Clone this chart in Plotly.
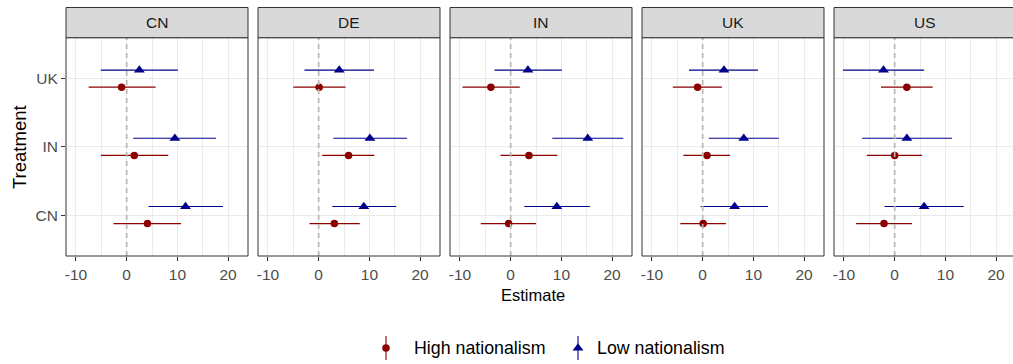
import plotly.graph_objects as go

# Facets (respondent country) and treatment categories
countries = ["CN", "DE", "IN", "UK", "US"]
treatments = ["CN", "IN", "UK"]
x_ticks = [-10, 0, 10, 20]

# High nationalism: estimate and 95% interval, one row per facet (CN, IN, UK treatments)
high_est = [[4.1, 1.5, -1.0], [3.1, 5.9, 0.1], [-0.4, 3.6, -3.9], [0.1, 0.85, -1.0], [-2.1, 0.0, 2.4]]
high_lo = [[-2.6, -5.1, -7.5], [-1.8, 0.7, -5.0], [-5.9, -2.0, -9.5], [-4.4, -3.8, -5.9], [-7.6, -5.5, -2.7]]
high_hi = [[10.7, 8.2, 5.7], [8.1, 11.0, 5.3], [5.0, 9.2, 1.8], [4.6, 5.4, 3.8], [3.4, 5.4, 7.5]]

# Low nationalism
low_est = [[11.6, 9.5, 2.5], [8.9, 10.1, 4.05], [9.1, 15.2, 3.4], [6.3, 8.1, 4.2], [5.8, 2.4, -2.2]]
low_lo = [[4.3, 1.3, -5.1], [2.7, 2.9, -2.8], [2.7, 8.2, -3.2], [-0.4, 1.2, -2.7], [-2.0, -6.4, -10.2]]
low_hi = [[19.0, 17.6, 10.1], [15.3, 17.4, 10.9], [15.6, 22.2, 10.1], [12.9, 15.0, 10.9], [13.6, 11.3, 5.8]]

HIGH_COL = "#8B0000"
LOW_COL = "#00008B"
FONT = "Liberation Sans, Arial, sans-serif"

W, H = 1013, 364
def px_x(p):
    return p / W
def px_y(p):
    return 1 - p / H

panel_left = [66, 258, 450, 642, 834]
panel_w = 182
panel_top, panel_bot = 37.7, 256
strip_top = 7.5
x_lo, x_span = -11.96, 35.88
dodge = 0.125

fig = go.Figure()

for i, c in enumerate(countries):
    n = i + 1
    xa, ya = f"x{n}" if n > 1 else "x", f"y{n}" if n > 1 else "y"
    ypos = [k + 1 for k in range(len(treatments))]
    series = [
        ("High nationalism", high_est[i], high_lo[i], high_hi[i], HIGH_COL, "circle", 7.5, -dodge),
        ("Low nationalism", low_est[i], low_lo[i], low_hi[i], LOW_COL, "triangle-up", 9.5, dodge),
    ]
    for name, est, lo, hi, col, sym, size, off in series:
        fig.add_trace(go.Scatter(
            x=est, y=[p + off for p in ypos], xaxis=xa, yaxis=ya,
            mode="markers", name=name, showlegend=False,
            marker=dict(color=col, symbol=sym, size=size, line=dict(width=0)),
            error_x=dict(type="data", symmetric=False,
                         array=[h - e for h, e in zip(hi, est)],
                         arrayminus=[e - l for e, l in zip(est, lo)],
                         color=col, thickness=1.1, width=0),
        ))

    left = panel_left[i]
    w = min(panel_w, W - left)
    x_hi = x_lo + w * x_span / panel_w
    axk = "xaxis" if n == 1 else f"xaxis{n}"
    ayk = "yaxis" if n == 1 else f"yaxis{n}"
    fig.layout[axk] = dict(
        domain=[px_x(left), px_x(left + w)], range=[x_lo, x_hi], anchor=ya,
        tickvals=x_ticks, ticktext=[str(v) for v in x_ticks],
        ticks="outside", ticklen=4, tickwidth=1, tickcolor="#333333",
        tickfont=dict(family=FONT, size=15.5, color="#4D4D4D"),
        showgrid=True, gridcolor="#EBEBEB", gridwidth=1.1,
        minor=dict(tickvals=[-5, 5, 15], showgrid=True, gridcolor="#EBEBEB", gridwidth=0.6, ticks=""),
        zeroline=False, showline=False, fixedrange=True,
    )
    fig.layout[ayk] = dict(
        domain=[px_y(panel_bot), px_y(panel_top)], range=[0.4, 3.6], anchor=xa,
        tickvals=[1, 2, 3], ticktext=treatments,
        showticklabels=(n == 1), ticks="outside" if n == 1 else "", ticklen=4,
        tickwidth=1, tickcolor="#333333",
        tickfont=dict(family=FONT, size=15.5, color="#4D4D4D"),
        showgrid=True, gridcolor="#EBEBEB", gridwidth=1.1,
        zeroline=False, showline=False, fixedrange=True,
    )

    # reference line at zero, drawn over the points
    fig.add_shape(type="line", xref=xa, yref=f"{ya} domain", x0=0, x1=0, y0=0, y1=1,
                  line=dict(color="#B8B8B8", width=1.7, dash="5px,4px"), layer="above")
    # panel border
    fig.add_shape(type="rect", xref="paper", yref="paper",
                  x0=px_x(left), x1=px_x(left + panel_w), y0=px_y(panel_bot), y1=px_y(panel_top),
                  line=dict(color="#333333", width=1), fillcolor="rgba(0,0,0,0)", layer="above")
    # facet strip
    fig.add_shape(type="rect", xref="paper", yref="paper",
                  x0=px_x(left), x1=px_x(left + panel_w), y0=px_y(panel_top), y1=px_y(strip_top),
                  line=dict(color="#333333", width=1), fillcolor="#D9D9D9", layer="above")
    fig.add_annotation(text=c, xref="paper", yref="paper",
                       x=px_x(left + panel_w / 2), y=px_y((strip_top + panel_top) / 2),
                       showarrow=False, xanchor="center", yanchor="middle",
                       font=dict(family=FONT, size=15.5, color="#1A1A1A"))

# axis titles
fig.add_annotation(text="Estimate", xref="paper", yref="paper", x=px_x(533), y=px_y(295),
                   showarrow=False, xanchor="center", yanchor="middle",
                   font=dict(family=FONT, size=16.5, color="black"))
fig.add_annotation(text="Treatment", xref="paper", yref="paper", x=px_x(19), y=px_y(147),
                   showarrow=False, xanchor="center", yanchor="middle", textangle=-90,
                   font=dict(family=FONT, size=18.5, color="black"))

# legend keys (pointrange glyphs) on a hidden helper axis
fig.layout["xaxis6"] = dict(domain=[0, 1], range=[0, W], visible=False, fixedrange=True, anchor="y6")
fig.layout["yaxis6"] = dict(domain=[0, px_y(328)], range=[H, 328], visible=False, fixedrange=True, anchor="x6")
legend_items = [("High nationalism", HIGH_COL, "circle", 7.5, 386, 412),
                ("Low nationalism", LOW_COL, "triangle-up", 9.5, 578, 595)]
for name, col, sym, size, gx, tx in legend_items:
    fig.add_trace(go.Scatter(
        x=[gx], y=[348], xaxis="x6", yaxis="y6", mode="markers", showlegend=False,
        marker=dict(color=col, symbol=sym, size=size, line=dict(width=0)),
        error_y=dict(type="constant", value=12, color=col, thickness=1.1, width=0),
        hoverinfo="skip",
    ))
    fig.add_annotation(text=name, xref="paper", yref="paper", x=px_x(tx), y=px_y(348),
                       showarrow=False, xanchor="left", yanchor="middle",
                       font=dict(family=FONT, size=17.8, color="black"))

fig.update_layout(
    width=W, height=H, margin=dict(l=0, r=0, t=0, b=0),
    paper_bgcolor="white", plot_bgcolor="white", showlegend=False,
)

fig.write_html("out.html")
